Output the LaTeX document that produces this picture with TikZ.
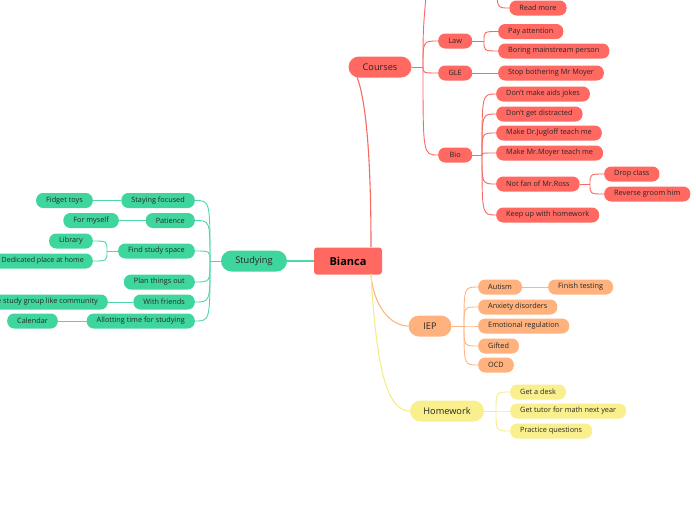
\documentclass[tikz,border=0pt]{standalone}
\usepackage{fontspec}
\setmainfont{Open Sans}
\definecolor{cRed}{HTML}{FF6961}
\definecolor{cRedL}{HTML}{F56A62}
\definecolor{cGreen}{HTML}{3FD69E}
\definecolor{cGreenL}{HTML}{4ED8A6}
\definecolor{cOrange}{HTML}{FFB27D}
\definecolor{cOrangeL}{HTML}{FFB583}
\definecolor{cYellow}{HTML}{F9EF8C}
\definecolor{cYellowL}{HTML}{F6EC8A}
\definecolor{cText}{HTML}{262626}
\tikzset{
  leaf/.style={rounded corners=7pt, minimum height=15pt, minimum width=34pt, inner xsep=10pt, inner ysep=0pt,
    font=\fontsize{7.3}{8.5}\selectfont, text=cText},
  mainn/.style={rounded corners=10.5pt, minimum height=21pt, inner xsep=0pt, inner ysep=0pt,
    font=\fontsize{9.2}{11}\selectfont, text=cText},
  rd/.style={fill=cRed}, gr/.style={fill=cGreen}, og/.style={fill=cOrange}, yl/.style={fill=cYellow},
  rl/.style={draw=cRedL, line width=0.9pt},
  gl/.style={draw=cGreenL, line width=0.9pt},
  ol/.style={draw=cOrangeL, line width=0.9pt},
  yll/.style={draw=cYellowL, line width=0.9pt},
}
\newcommand{\brc}[3]{\draw[#1] (#2) .. controls (#2 |- #3) and (#2 |- #3) .. (#3);}
\begin{document}
\begin{tikzpicture}[x=1pt,y=-1pt]
\useasboundingbox (0,0) rectangle (696,520);
\clip (0,0) rectangle (696,520);
% root
\node[rounded corners=3pt, fill=cRed, minimum width=68pt, minimum height=27pt, inner sep=0pt,
  font=\fontsize{11}{13}\bfseries, text=black] (bianca) at (348,261) {Bianca};
\coordinate (btop) at (371,247);
\coordinate (bbot) at (371,274);
\coordinate (cbot) at (357,77);
% main branches
\node[mainn, rd, minimum width=63pt] (courses) at (380,67) {Courses};
\node[mainn, gr, minimum width=66pt] (studying) at (254,261) {Studying};
\node[mainn, og, minimum width=43pt] (iep) at (430,326) {IEP};
\node[mainn, yl, minimum width=74pt] (homework) at (447,411) {Homework};
\draw[rl, line width=1.1pt] (btop) .. controls (371,140) and (364,95) .. (cbot);
\draw[gl, line width=1.1pt] (bianca.west) -- (studying.east);
\draw[ol, line width=1.1pt] (bbot) .. controls (373,305) and (390,326) .. (iep.west);
\draw[yll, line width=1.1pt] (bbot) .. controls (376,360) and (385,411) .. (homework.west);

% ---- Courses
\coordinate (cf) at (423,67);
\coordinate (cup) at (427,-15);
\coordinate (rmin) at (497,-15);
\node[leaf, rd] (readmore) at (538,8) {Read more};
\node[leaf, rd, anchor=west] (law) at (438,41) {Law};
\node[leaf, rd, anchor=west] (gle) at (438,73) {GLE};
\node[leaf, rd, anchor=west] (bio) at (438,155) {Bio};
\draw[rl] (courses.east) -- (cf);
\draw[rl] (cf) .. controls (423,30) .. (cup);
\brc{rl}{rmin}{readmore.west}
\brc{rl}{cf}{law.west}
\brc{rl}{cf}{gle.west}
\brc{rl}{cf}{bio.west}
% Law
\coordinate (lf) at (484,41);
\node[leaf, rd, anchor=west] (pay) at (498,31.5) {Pay attention};
\node[leaf, rd, anchor=west] (boring) at (498,51) {Boring mainstream person};
\draw[rl] (law.east) -- (lf);
\brc{rl}{lf}{pay.west}
\brc{rl}{lf}{boring.west}
% GLE
\node[leaf, rd, anchor=west] (stop) at (498,73) {Stop bothering Mr Moyer};
\draw[rl] (gle.east) -- (stop.west);
% Bio
\coordinate (bf) at (482,155);
\node[leaf, rd, anchor=west] (aids) at (496,94) {Don't make aids jokes};
\node[leaf, rd, anchor=west] (distr) at (496,114) {Don't get distracted};
\node[leaf, rd, anchor=west] (jug) at (496,133) {Make Dr.Jugloff teach me};
\node[leaf, rd, anchor=west] (moyer) at (496,153) {Make Mr.Moyer teach me};
\node[leaf, rd, anchor=west] (ross) at (496,184) {Not fan of Mr.Ross};
\node[leaf, rd, anchor=west] (keep) at (496,215) {Keep up with homework};
\draw[rl] (bio.east) -- (bf);
\brc{rl}{bf}{aids.west}
\brc{rl}{bf}{distr.west}
\brc{rl}{bf}{jug.west}
\brc{rl}{bf}{moyer.west}
\brc{rl}{bf}{ross.west}
\brc{rl}{bf}{keep.west}
% Ross
\coordinate (rf) at (590,184);
\node[leaf, rd, anchor=west] (drop) at (604,174) {Drop class};
\node[leaf, rd, anchor=west] (groom) at (604,194) {Reverse groom him};
\draw[rl] (ross.east) -- (rf);
\brc{rl}{rf}{drop.west}
\brc{rl}{rf}{groom.west}

% ---- Studying
\coordinate (sf) at (210,261);
\node[leaf, gr, anchor=east] (focus) at (195,200.5) {Staying focused};
\node[leaf, gr, anchor=east] (pat) at (195,220.5) {Patience};
\node[leaf, gr, anchor=east] (space) at (195,251) {Find study space};
\node[leaf, gr, anchor=east] (plan) at (195,282) {Plan things out};
\node[leaf, gr, anchor=east] (friends) at (195,302) {With friends};
\node[leaf, gr, anchor=east] (allot) at (195,321) {Allotting time for studying};
\draw[gl] (studying.west) -- (sf);
\brc{gl}{sf}{focus.east}
\brc{gl}{sf}{pat.east}
\brc{gl}{sf}{space.east}
\brc{gl}{sf}{plan.east}
\brc{gl}{sf}{friends.east}
\brc{gl}{sf}{allot.east}
\node[leaf, gr, anchor=east] (fidget) at (93,200.5) {Fidget toys};
\draw[gl] (focus.west) -- (fidget.east);
\node[leaf, gr, anchor=east] (myself) at (119,220.5) {For myself};
\draw[gl] (pat.west) -- (myself.east);
\coordinate (ff) at (107,251);
\node[leaf, gr, anchor=east] (lib) at (93,241) {Library};
\node[leaf, gr, anchor=east, inner xsep=9pt, font=\fontsize{7.1}{8.5}\selectfont] (home) at (93,261) {Dedicated place at home};
\draw[gl] (space.west) -- (ff);
\brc{gl}{ff}{lib.east}
\brc{gl}{ff}{home.east}
\node[leaf, gr, anchor=east] (comm) at (108,302) {Create study group like community};
\draw[gl] (friends.west) -- (comm.east);
\node[leaf, gr, anchor=east] (cal) at (58,321) {Calendar};
\draw[gl] (allot.west) -- (cal.east);

% ---- IEP
\coordinate (if) at (464,326);
\node[leaf, og, anchor=west] (autism) at (478,287) {Autism};
\node[leaf, og, anchor=west] (anx) at (478,307) {Anxiety disorders};
\node[leaf, og, anchor=west] (emo) at (478,326) {Emotional regulation};
\node[leaf, og, anchor=west] (gifted) at (478,346) {Gifted};
\node[leaf, og, anchor=west] (ocd) at (478,365) {OCD};
\draw[ol] (iep.east) -- (if);
\brc{ol}{if}{autism.west}
\brc{ol}{if}{anx.west}
\brc{ol}{if}{emo.west}
\brc{ol}{if}{gifted.west}
\brc{ol}{if}{ocd.west}
\node[leaf, og, anchor=west] (finish) at (548,287) {Finish testing};
\draw[ol] (autism.east) -- (finish.west);

% ---- Homework
\coordinate (hf) at (496,411);
\node[leaf, yl, anchor=west] (desk) at (510,392) {Get a desk};
\node[leaf, yl, anchor=west] (tutor) at (510,411) {Get tutor for math next year};
\node[leaf, yl, anchor=west] (pract) at (510,431) {Practice questions};
\draw[yll] (homework.east) -- (hf);
\brc{yll}{hf}{desk.west}
\brc{yll}{hf}{tutor.west}
\brc{yll}{hf}{pract.west}
\end{tikzpicture}
\end{document}
